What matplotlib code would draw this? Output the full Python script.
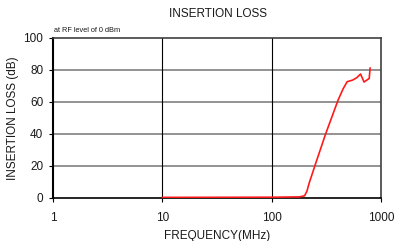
import matplotlib
matplotlib.use("Agg")
import matplotlib.pyplot as plt
from matplotlib.ticker import FixedLocator, NullLocator

plt.rcParams["font.family"] = ["Liberation Sans", "DejaVu Sans"]

# Insertion loss curve
freq_mhz = [10, 100, 180, 200, 210, 220, 250, 312, 405, 450, 490, 550,
            600, 650, 700, 760, 780, 795]
loss_db = [0.2, 0.3, 0.5, 1.2, 4.0, 9.0, 20.5, 40.0, 61.0, 68.0, 72.5,
           73.5, 75.0, 77.3, 72.3, 74.0, 74.5, 81.0]

x_ticks = [1, 10, 100, 1000]
x_tick_labels = ["1", "10", "100", "1000"]
y_ticks = [0, 20, 40, 60, 80, 100]

fig = plt.figure(figsize=(3.96, 2.41), dpi=100)
ax = fig.add_axes([53 / 396, 1 - 197.7 / 241, 328 / 396, 160 / 241])

ax.set_xscale("log")
ax.set_xlim(1, 1000)
ax.set_ylim(0, 100)

# Grid: gray horizontal lines, black vertical lines
for y in y_ticks[1:-1]:
    ax.axhline(y, color="#808080", lw=1.2, zorder=1)
for x in x_ticks[1:-1]:
    ax.axvline(x, color="black", lw=0.8, zorder=1)

ax.plot(freq_mhz, loss_db, color="#ff1a1a", lw=1.2, zorder=3)

ax.xaxis.set_major_locator(FixedLocator(x_ticks))
ax.xaxis.set_minor_locator(NullLocator())
ax.set_xticklabels(x_tick_labels)
ax.set_yticks(y_ticks)
ax.tick_params(axis="x", labelsize=8.5, length=3, width=0.8,
               direction="out", pad=7, labelcolor="#1a1a1a")
ax.tick_params(axis="y", labelsize=8.5, length=3, width=0.8,
               direction="out", pad=4, labelcolor="#1a1a1a")

ax.spines["left"].set_linewidth(1.5)
ax.spines["left"].set_color("black")
ax.spines["bottom"].set_linewidth(1.2)
ax.spines["bottom"].set_color("black")
ax.spines["top"].set_linewidth(1.2)
ax.spines["top"].set_color("#404040")
ax.spines["right"].set_linewidth(1.2)
ax.spines["right"].set_color("#404040")

fig.text(218 / 396, 1 - 14 / 241, "INSERTION LOSS", ha="center",
         va="center", fontsize=8.5, color="#1a1a1a")
fig.text(54 / 396, 1 - 30 / 241, "at RF level of 0 dBm", ha="left",
         va="center", fontsize=5.3, color="#1a1a1a")
fig.text(13 / 396, 1 - 118 / 241, "INSERTION LOSS (dB)", ha="center",
         va="center", rotation=90, fontsize=8.5, color="#1a1a1a")
fig.text(217 / 396, 1 - 236 / 241, "FREQUENCY(MHz)", ha="center",
         va="center", fontsize=8.5, color="#1a1a1a")

fig.savefig("out.png", dpi=100)
